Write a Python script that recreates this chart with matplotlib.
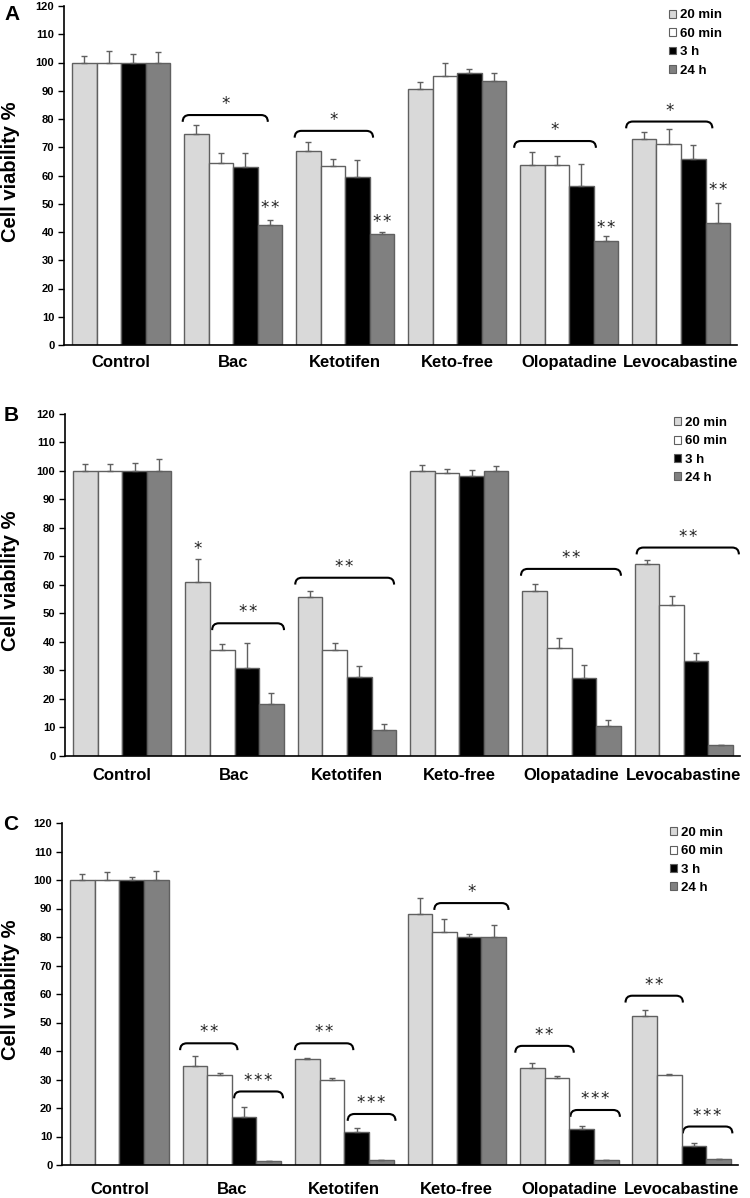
import matplotlib
matplotlib.use("Agg")
import matplotlib.pyplot as plt
import numpy as np
from matplotlib.path import Path
from matplotlib.patches import PathPatch, Patch

plt.rcParams['font.family'] = ['Liberation Sans', 'DejaVu Sans']

categories = ["Control", "Bac", "Ketotifen", "Keto-free", "Olopatadine", "Levocabastine"]
series = ["20 min", "60 min", "3 h", "24 h"]
colors = ["#d9d9d9", "#ffffff", "#000000", "#808080"]

# Panel A values (rows = series, cols = categories)
A_vals = [[100, 74.6, 68.6, 90.5, 63.8, 72.8],
          [100, 64.4, 63.4, 95.2, 63.8, 71.0],
          [100, 62.9, 59.4, 96.4, 56.3, 65.7],
          [100, 42.4, 39.3, 93.3, 36.7, 43.1]]
A_err = [[2.4, 3.2, 3.4, 2.5, 4.6, 2.5],
         [4.1, 3.7, 2.6, 4.5, 3.2, 5.6],
         [2.9, 4.9, 6.0, 1.3, 7.9, 5.0],
         [3.6, 1.7, 0.6, 3.0, 1.9, 7.2]]

# Panel B values
B_vals = [[100, 61.0, 55.6, 99.9, 57.8, 67.3],
          [100, 37.1, 37.0, 99.2, 37.7, 52.8],
          [100, 30.7, 27.7, 98.3, 27.4, 33.2],
          [100, 18.0, 8.9, 100.1, 10.5, 3.6]]
B_err = [[2.3, 8.0, 2.1, 2.3, 2.4, 1.4],
         [2.3, 2.1, 2.5, 1.4, 3.5, 3.4],
         [2.8, 8.8, 3.8, 2.0, 4.3, 2.7],
         [4.1, 3.9, 2.1, 1.8, 2.1, 0.3]]

# Panel C values
C_vals = [[100, 34.8, 37.1, 88.2, 34.2, 52.3],
          [100, 31.7, 29.7, 81.7, 30.4, 31.6],
          [100, 16.9, 11.5, 80.1, 12.6, 6.8],
          [100, 1.3, 1.8, 80.1, 1.6, 2.1]]
C_err = [[2.1, 3.4, 0.3, 5.5, 1.7, 2.0],
         [2.7, 0.7, 0.7, 4.6, 0.7, 0.5],
         [1.0, 3.5, 1.5, 0.8, 1.2, 0.9],
         [3.3, 0.1, 0.1, 4.2, 0.1, 0.1]]

# Significance annotations: (category index, left offset, right offset, height, label)
A_brackets = [(1, -0.45, 0.31, 81.4, "*"), (2, -0.45, 0.25, 75.8, "*"),
              (4, -0.49, 0.24, 72.2, "*"), (5, -0.49, 0.28, 79.1, "*")]
A_marks = [(1, 0.33, 48.4, "**"), (2, 0.33, 43.7, "**"),
           (4, 0.33, 41.5, "**"), (5, 0.33, 54.9, "**")]
B_brackets = [(1, -0.2, 0.44, 46.5, "**"), (2, -0.46, 0.42, 62.5, "**"),
              (4, -0.45, 0.44, 65.6, "**"), (5, -0.42, 0.49, 73.1, "**")]
B_marks = [(1, -0.33, 72.6, "*")]
C_brackets = [(1, -0.46, 0.05, 42.7, "**"), (1, 0.02, 0.455, 25.8, "***"),
              (2, -0.44, 0.08, 42.7, "**"), (2, 0.03, 0.455, 17.9, "***"),
              (3, -0.2, 0.46, 91.9, "*"),
              (4, -0.48, 0.04, 41.8, "**"), (4, 0.01, 0.45, 19.3, "***"),
              (5, -0.5, 0.01, 59.4, "**"), (5, 0.01, 0.45, 13.5, "***")]
C_marks = []

fig = plt.figure(figsize=(7.5, 11.98), dpi=100)
W, H = 750.0, 1198.0

def axes_px(left, right, top, bottom):
    return fig.add_axes([left / W, 1 - bottom / H, (right - left) / W, (bottom - top) / H])

panels = [
    ("A", axes_px(64, 737, 6, 345), A_vals, A_err, A_brackets, A_marks, (12, 15), (669, 9.5), 7.5),
    ("B", axes_px(65, 740, 414, 755.7), B_vals, B_err, B_brackets, B_marks, (11, 416), (674, 417), 9),
    ("C", axes_px(62, 738, 823, 1165), C_vals, C_err, C_brackets, C_marks, (11, 825), (670, 827), 12),
]

bw = 0.219
x = np.arange(len(categories))

def star_text(ax, xc, y, label):
    ax.text(xc, y, "\u200a".join(label), ha='center', va='center', fontsize=12,
            family='DejaVu Sans', color='#222222')

def bracket(ax, x0, x1, y, label):
    h = 2.4
    r = 0.06
    verts = [(x0, y - h), (x0, y), (x0 + r, y), (x1 - r, y), (x1, y), (x1, y - h)]
    codes = [Path.MOVETO, Path.CURVE3, Path.CURVE3, Path.LINETO, Path.CURVE3, Path.CURVE3]
    ax.add_patch(PathPatch(Path(verts, codes), facecolor='none', edgecolor='black', lw=1.5))
    star_text(ax, (x0 + x1) / 2, y + 3.8, label)

for letter, ax, vals, errs, brs, marks, lpos, legpos, xpad in panels:
    for i, s in enumerate(series):
        pos = x + (i - 1.5) * bw
        ax.bar(pos, vals[i], width=bw, color=colors[i], edgecolor='#606060', linewidth=1.0,
               label=s, zorder=2)
        ax.errorbar(pos, vals[i], yerr=[np.zeros(len(categories)), errs[i]], fmt='none',
                    ecolor='#606060', elinewidth=1.0, capsize=2.5, capthick=1.0, zorder=3)
    for (ci, o0, o1, y, lab) in brs:
        bracket(ax, ci + o0, ci + o1, y, lab)
    for (ci, o, y, lab) in marks:
        star_text(ax, ci + o, y, lab)
    ax.set_xlim(-0.51, 5.5)
    ax.set_ylim(0, 120)
    ax.set_yticks(np.arange(0, 121, 10))
    ax.set_xticks(x)
    ax.set_xticklabels(categories, fontsize=12, fontweight='bold')
    ax.tick_params(axis='x', length=0, pad=xpad)
    ax.tick_params(axis='y', length=4, width=1, pad=3, labelsize=8)
    for t in ax.get_yticklabels():
        t.set_fontweight('bold')
    for sp in ['top', 'right']:
        ax.spines[sp].set_visible(False)
    ax.spines['left'].set_linewidth(1.2)
    ax.spines['bottom'].set_linewidth(1.2)
    bb = ax.get_position()
    fig.text(11 / W, (bb.y0 + bb.y1) / 2 + 4 / H, "Cell viability %", fontsize=14.5,
             fontweight='bold', rotation=90, ha='center', va='center')
    fig.text(lpos[0] / W, 1 - lpos[1] / H, letter, fontsize=15, fontweight='bold',
             ha='center', va='center')
    handles = [Patch(facecolor=colors[i], edgecolor='#606060', linewidth=0.8) for i in range(4)]
    leg = ax.legend(handles, series, loc='upper left',
                    bbox_to_anchor=((legpos[0] - bb.x0 * W) / (bb.width * W),
                                    1 - (legpos[1] - (1 - bb.y1) * H) / (bb.height * H)),
                    frameon=False, borderpad=0, borderaxespad=0, handlelength=0.55,
                    handleheight=0.55, handletextpad=0.25, labelspacing=0.48,
                    prop={'size': 9.5, 'weight': 'bold'})

fig.savefig("out.png", dpi=100)
